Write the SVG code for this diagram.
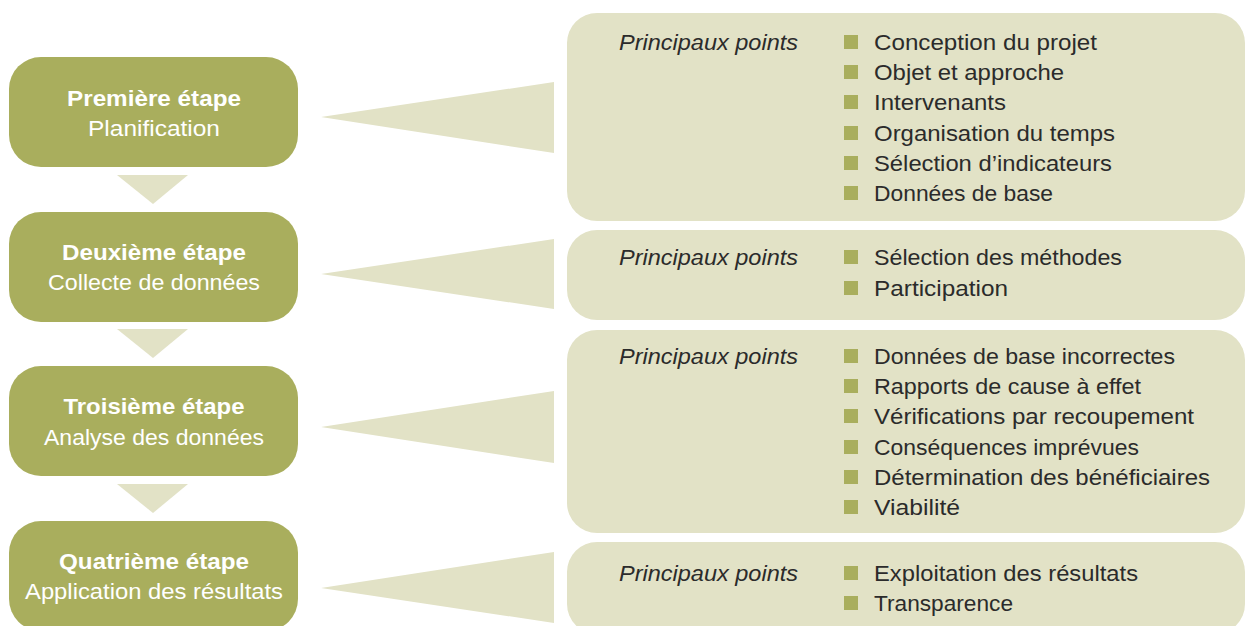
<svg xmlns="http://www.w3.org/2000/svg" width="1245" height="626" viewBox="0 0 1245 626">
<style>
.step{fill:#a9ae5d}
.pale{fill:#e2e2c6}
.bul{fill:#a9ae5d}
.t1{font-family:"Liberation Sans",Arial,sans-serif;font-size:22px;fill:#fff;text-anchor:middle}
.b{font-weight:bold}
.pp{font-family:"Liberation Sans",Arial,sans-serif;font-size:22px;font-style:italic;fill:#2b2b2b}
.it{font-family:"Liberation Sans",Arial,sans-serif;font-size:22px;fill:#2b2b2b}
</style>
<rect width="1245" height="626" fill="#fff"/>
<g id="connectors">
<polygon class="pale" points="117,175 188,175 153,204"/>
<polygon class="pale" points="117,329 188,329 153,358"/>
<polygon class="pale" points="117,484 188,484 153,513"/>
<polygon class="pale" points="321,117 554,82 554,153"/>
<polygon class="pale" points="321,274 554,239 554,309"/>
<polygon class="pale" points="321,427 554,391 554,463"/>
<polygon class="pale" points="321,588 554,552 554,623"/>
</g>
<g id="step1">
<rect class="step" x="9" y="57" width="289" height="110" rx="32"/>
<text class="t1 b" x="154" y="106" textLength="174" lengthAdjust="spacingAndGlyphs">Première étape</text>
<text class="t1" x="154" y="136" textLength="132" lengthAdjust="spacingAndGlyphs">Planification</text>
</g>
<g id="step2">
<rect class="step" x="9" y="212" width="289" height="110" rx="32"/>
<text class="t1 b" x="154" y="260" textLength="184" lengthAdjust="spacingAndGlyphs">Deuxième étape</text>
<text class="t1" x="154" y="290" textLength="212" lengthAdjust="spacingAndGlyphs">Collecte de données</text>
</g>
<g id="step3">
<rect class="step" x="9" y="366" width="289" height="110" rx="32"/>
<text class="t1 b" x="154" y="414" textLength="181" lengthAdjust="spacingAndGlyphs">Troisième étape</text>
<text class="t1" x="154" y="445" textLength="220" lengthAdjust="spacingAndGlyphs">Analyse des données</text>
</g>
<g id="step4">
<rect class="step" x="9" y="521" width="289" height="110" rx="32"/>
<text class="t1 b" x="154" y="569" textLength="190" lengthAdjust="spacingAndGlyphs">Quatrième étape</text>
<text class="t1" x="154" y="599" textLength="258" lengthAdjust="spacingAndGlyphs">Application des résultats</text>
</g>
<g id="panel1">
<rect class="pale" x="567" y="13" width="678" height="208" rx="30"/>
<text class="pp" x="619" y="50" textLength="179" lengthAdjust="spacingAndGlyphs">Principaux points</text>
<rect class="bul" x="844" y="35" width="14" height="14"/>
<rect class="bul" x="844" y="65" width="14" height="14"/>
<rect class="bul" x="844" y="95" width="14" height="14"/>
<rect class="bul" x="844" y="126" width="14" height="14"/>
<rect class="bul" x="844" y="156" width="14" height="14"/>
<rect class="bul" x="844" y="186" width="14" height="14"/>
<text class="it" x="874" y="50" textLength="223" lengthAdjust="spacingAndGlyphs">Conception du projet</text>
<text class="it" x="874" y="80" textLength="190" lengthAdjust="spacingAndGlyphs">Objet et approche</text>
<text class="it" x="874" y="110" textLength="132" lengthAdjust="spacingAndGlyphs">Intervenants</text>
<text class="it" x="874" y="141" textLength="241" lengthAdjust="spacingAndGlyphs">Organisation du temps</text>
<text class="it" x="874" y="171" textLength="238" lengthAdjust="spacingAndGlyphs">Sélection d’indicateurs</text>
<text class="it" x="874" y="201" textLength="179" lengthAdjust="spacingAndGlyphs">Données de base</text>
</g>
<g id="panel2">
<rect class="pale" x="567" y="230" width="678" height="90" rx="30"/>
<text class="pp" x="619" y="265" textLength="179" lengthAdjust="spacingAndGlyphs">Principaux points</text>
<rect class="bul" x="844" y="250" width="14" height="14"/>
<rect class="bul" x="844" y="281" width="14" height="14"/>
<text class="it" x="874" y="265" textLength="248" lengthAdjust="spacingAndGlyphs">Sélection des méthodes</text>
<text class="it" x="874" y="296" textLength="134" lengthAdjust="spacingAndGlyphs">Participation</text>
</g>
<g id="panel3">
<rect class="pale" x="567" y="330" width="678" height="203" rx="30"/>
<text class="pp" x="619" y="364" textLength="179" lengthAdjust="spacingAndGlyphs">Principaux points</text>
<rect class="bul" x="844" y="349" width="14" height="14"/>
<rect class="bul" x="844" y="379" width="14" height="14"/>
<rect class="bul" x="844" y="409" width="14" height="14"/>
<rect class="bul" x="844" y="440" width="14" height="14"/>
<rect class="bul" x="844" y="470" width="14" height="14"/>
<rect class="bul" x="844" y="500" width="14" height="14"/>
<text class="it" x="874" y="364" textLength="301" lengthAdjust="spacingAndGlyphs">Données de base incorrectes</text>
<text class="it" x="874" y="394" textLength="267" lengthAdjust="spacingAndGlyphs">Rapports de cause à effet</text>
<text class="it" x="874" y="424" textLength="320" lengthAdjust="spacingAndGlyphs">Vérifications par recoupement</text>
<text class="it" x="874" y="455" textLength="265" lengthAdjust="spacingAndGlyphs">Conséquences imprévues</text>
<text class="it" x="874" y="485" textLength="336" lengthAdjust="spacingAndGlyphs">Détermination des bénéficiaires</text>
<text class="it" x="874" y="515" textLength="86" lengthAdjust="spacingAndGlyphs">Viabilité</text>
</g>
<g id="panel4">
<rect class="pale" x="567" y="542" width="678" height="92" rx="30"/>
<text class="pp" x="619" y="581" textLength="179" lengthAdjust="spacingAndGlyphs">Principaux points</text>
<rect class="bul" x="844" y="566" width="14" height="14"/>
<rect class="bul" x="844" y="596" width="14" height="14"/>
<text class="it" x="874" y="581" textLength="264" lengthAdjust="spacingAndGlyphs">Exploitation des résultats</text>
<text class="it" x="874" y="611" textLength="139" lengthAdjust="spacingAndGlyphs">Transparence</text>
</g>
</svg>
